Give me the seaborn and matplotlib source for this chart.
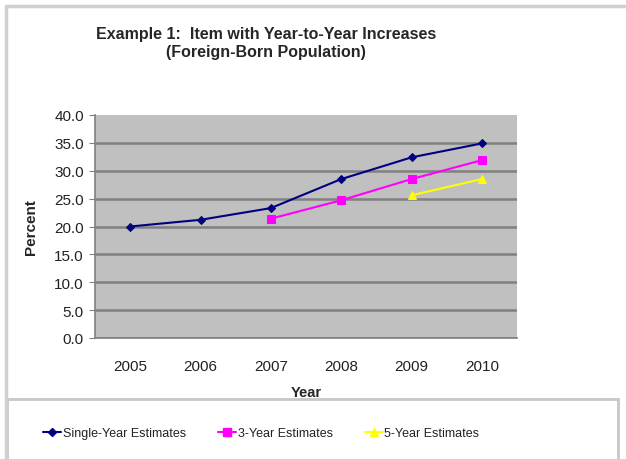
import matplotlib
matplotlib.use("Agg")
import matplotlib.pyplot as plt
from matplotlib.patches import Rectangle
from matplotlib.lines import Line2D
import seaborn as sns
import pandas as pd

# Foreign-born population, percent, by estimate type
years = [2005, 2006, 2007, 2008, 2009, 2010]
single_year = [20.0, 21.2, 23.3, 28.5, 32.4, 34.9]
three_year_years = [2007, 2008, 2009, 2010]
three_year = [21.4, 24.7, 28.5, 31.9]
five_year_years = [2009, 2010]
five_year = [25.6, 28.5]
y_ticks = [0, 5, 10, 15, 20, 25, 30, 35, 40]

series_names = ["Single-Year Estimates", "3-Year Estimates", "5-Year Estimates"]

df = pd.concat([
    pd.DataFrame({"Year": years, "Percent": single_year, "Series": series_names[0]}),
    pd.DataFrame({"Year": three_year_years, "Percent": three_year, "Series": series_names[1]}),
    pd.DataFrame({"Year": five_year_years, "Percent": five_year, "Series": series_names[2]}),
], ignore_index=True)

sns.set_style("white")
plt.rcParams["font.family"] = ["Liberation Sans", "DejaVu Sans"]

W, H = 626, 460
fig = plt.figure(figsize=(W / 100, H / 100), dpi=100)
fig.patch.set_facecolor("white")

left, right, top, bottom = 95, 517, 116, 339
ax = fig.add_axes([left / W, 1 - bottom / H, (right - left) / W, (bottom - top) / H])
ax.set_facecolor("#c0c0c0")

palette = {series_names[0]: "#000080", series_names[1]: "#ff00ff", series_names[2]: "#ffff00"}
markers = {series_names[0]: "D", series_names[1]: "s", series_names[2]: "^"}
sizes = {series_names[0]: 4.5, series_names[1]: 6, series_names[2]: 5.5}

for name in series_names:
    sub = df[df["Series"] == name]
    sns.lineplot(data=sub, x="Year", y="Percent", ax=ax, color=palette[name],
                 marker=markers[name], markersize=sizes[name],
                 markeredgecolor=palette[name], linewidth=1.5, legend=False, zorder=3)

ax.set_xlim(years[0] - 0.5, years[-1] + 0.5)
ax.set_ylim(0, 40)
ax.set_yticks(y_ticks)
ax.set_yticklabels([f"{v:.1f}" for v in y_ticks])
ax.set_xticks(years)
ax.set_xticklabels([str(y) for y in years])
ax.set_xticks([y + 0.5 for y in years[:-1]], minor=True)

ax.tick_params(axis="x", which="major", length=0, pad=15, labelsize=11, colors="#222222")
ax.tick_params(axis="x", which="minor", length=5, direction="out", color="#808080", width=1)
ax.tick_params(axis="y", which="major", length=4, direction="out", color="#808080",
               pad=4, labelsize=11, labelcolor="#222222", left=True)

ax.yaxis.grid(True, color="#808080", linewidth=1.8)
ax.set_axisbelow(True)
ax.get_ygridlines()[-1].set_visible(False)

for s in ["top", "right"]:
    ax.spines[s].set_visible(False)
for s in ["left", "bottom"]:
    ax.spines[s].set_color("#808080")
    ax.spines[s].set_linewidth(1.2)

ax.set_xlabel("Year", fontsize=10.5, fontweight="bold", labelpad=9)
ax.set_ylabel("Percent", fontsize=11, fontweight="bold", labelpad=12)

fig.text(266 / W, 1 - 34 / H, "Example 1:  Item with Year-to-Year Increases",
         ha="center", va="center", fontsize=11.5, fontweight="bold")
fig.text(266 / W, 1 - 53 / H, "(Foreign-Born Population)",
         ha="center", va="center", fontsize=11.5, fontweight="bold")

# chart border and legend frame
fig.add_artist(Line2D([6 / W, 1], [1 - 7 / H, 1 - 7 / H], color="#d0d0d0", linewidth=2.5,
                      transform=fig.transFigure))
fig.add_artist(Line2D([6 / W, 6 / W], [0, 1 - 7 / H], color="#d0d0d0", linewidth=2.5,
                      transform=fig.transFigure))
fig.add_artist(Rectangle((7 / W, -0.05), (618 - 7) / W, (460 - 400) / H + 0.05,
                         transform=fig.transFigure, facecolor="none",
                         edgecolor="#c8c8c8", linewidth=2))

handles = [Line2D([0], [0], color=palette[n], marker=markers[n], markersize=sizes[n],
                  markeredgecolor=palette[n], linewidth=1.5) for n in series_names]
fig.legend(handles, series_names, loc="center left", bbox_to_anchor=(32 / W, 1 - 434 / H),
           ncol=3, frameon=False, fontsize=9, handlelength=1.4, handletextpad=0.15,
           columnspacing=2.6, labelcolor="#222222")

fig.savefig("out.png", dpi=100, facecolor="white")
